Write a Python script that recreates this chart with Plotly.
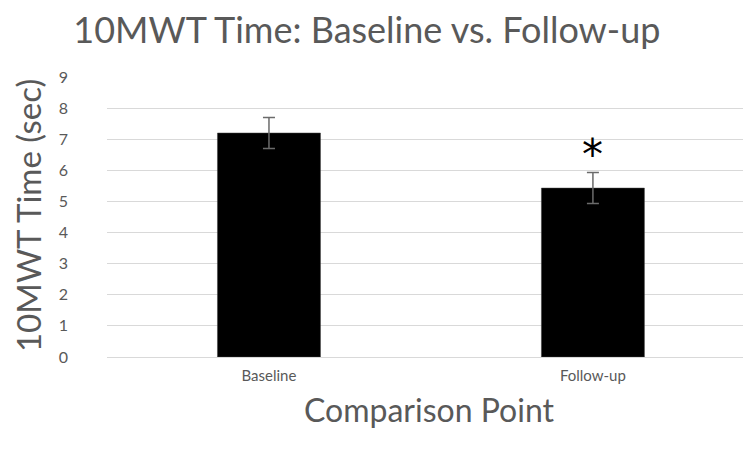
import plotly.graph_objects as go

categories = ["Baseline", "Follow-up"]
times = [7.2, 5.43]
errors = [0.5, 0.5]
y_ticks = [0, 1, 2, 3, 4, 5, 6, 7, 8, 9]
sig_marks = ["", "*"]

FONT = "Lato, 'Open Sans', sans-serif"
GREY = "#595959"

fig = go.Figure()
fig.add_trace(go.Bar(
    x=categories, y=times,
    marker=dict(color="black", line=dict(color="#404040", width=0.5)),
    error_y=dict(type="data", array=errors, visible=True,
                 color="#6b6b6b", thickness=1.5, width=6),
    width=0.318,
    hoverinfo="skip",
))

for c, v, e, m in zip(categories, times, errors, sig_marks):
    if m:
        fig.add_annotation(x=c, y=v + e, text=m, showarrow=False,
                           yanchor="bottom", yshift=-8,
                           font=dict(family="DejaVu Sans", size=42, color="black"))

# y axis title as a rotated annotation (placed further left than standoff allows)
fig.add_annotation(text="10MWT Time (sec)", xref="paper", yref="paper",
                   x=-0.1227, y=0.507, xanchor="center", yanchor="middle",
                   textangle=-90, showarrow=False, borderpad=0,
                   font=dict(family=FONT, size=33, color=GREY))

fig.update_layout(
    width=743, height=449,
    margin=dict(l=99, r=0, t=69, b=100),
    paper_bgcolor="white", plot_bgcolor="white",
    showlegend=False,
    title=dict(text="10MWT Time: Baseline vs. Follow-up", x=0.483, xanchor="center",
               y=0.95, yanchor="middle",
               font=dict(family=FONT, size=36, color=GREY)),
    font=dict(family=FONT, color=GREY),
)
fig.update_xaxes(
    type="category", range=[-0.5, 1.488], automargin=False,
    showgrid=False, zeroline=False, showline=False, ticks="",
    ticklabelstandoff=8,
    tickfont=dict(family=FONT, size=15, color=GREY),
    title=dict(text="Comparison Point", font=dict(family=FONT, size=32, color=GREY), standoff=16),
)
fig.update_yaxes(
    range=[0, 9], tickvals=y_ticks, ticktext=[str(t) for t in y_ticks],
    automargin=False,
    showgrid=True, gridcolor="#d9d9d9", gridwidth=1,
    zeroline=True, zerolinecolor="#d9d9d9", zerolinewidth=1,
    showline=False, ticks="", ticklabelstandoff=38,
    tickfont=dict(family=FONT, size=16, color=GREY),
)

fig.write_html("out.html")
